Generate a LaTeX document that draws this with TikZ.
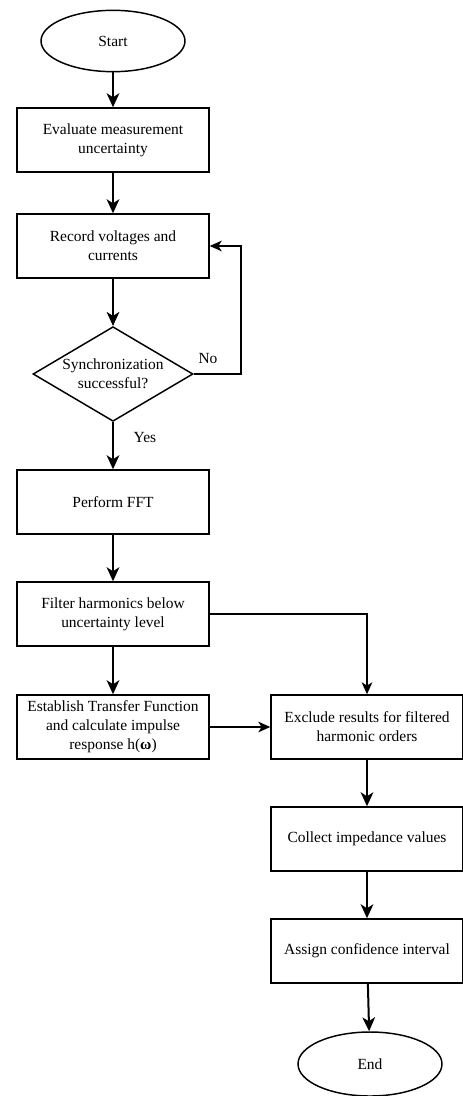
\documentclass[tikz,border=0pt]{standalone}
\usepackage{fontspec}
\setmainfont{Liberation Serif}
\usetikzlibrary{arrows.meta,shapes.geometric}

\begin{document}
\begin{tikzpicture}[x=0.75pt,y=-0.75pt,
    >={Stealth[length=10.5pt,width=9.5pt,inset=3pt]},
    font=\fontsize{11.6}{14.2}\selectfont,
    proc/.style={draw,line width=1.1pt,minimum width=144pt,minimum height=48pt,align=center,inner sep=2pt},
    term/.style={draw,line width=1.1pt,ellipse,minimum width=108pt,minimum height=46pt},
    dec/.style={draw,line width=1.1pt,diamond,minimum width=120pt,minimum height=71pt,inner sep=0pt,aspect=1.68,align=center},
    flow/.style={->,line width=1.5pt},
    thin flow/.style={-{Stealth[length=9pt,width=8pt,inset=2.5pt]},line width=1pt}]
  \useasboundingbox (0,0) rectangle (463,1096);
  % left column
  \node[term] (start) at (113,41) {Start};
  \node[proc] (eval) at (113,140) {Evaluate measurement\\uncertainty};
  \node[proc] (rec) at (113,246) {Record voltages and\\currents};
  \node[dec] (sync) at (113,374) {Synchronization\\successful?};
  \node[proc] (fft) at (113,502) {Perform FFT};
  \node[proc] (filt) at (113,614) {Filter harmonics below\\uncertainty level};
  \node[proc] (tf) at (113,727) {Establish Transfer Function\\and calculate impulse\\response h(\textbf{ω})};
  % right column
  \node[proc] (excl) at (367,727) {Exclude results for filtered\\harmonic orders};
  \node[proc] (coll) at (367,839) {Collect impedance values};
  \node[proc] (conf) at (367,951) {Assign confidence interval};
  \node[term,minimum height=48pt] (stop) at (370,1064) {End};
  \coordinate (loop) at (241,374);
  % labels
  \node (no) at (208,359) {No};
  \node (yes) at (145,438) {Yes};
  % connectors
  \draw[flow] (start) -- (eval);
  \draw[flow] (eval) -- (rec);
  \draw[flow] (rec) -- (sync);
  \draw[thin flow] (sync.east) -- (loop) |- (rec.east);
  \draw[flow] (sync) -- (fft);
  \draw[flow] (fft) -- (filt);
  \draw[flow] (filt) -- (tf);
  \draw[thin flow] (filt.east) -| (excl.north);
  \draw[thin flow] (tf) -- (excl);
  \draw[flow] (excl) -- (coll);
  \draw[flow] (coll) -- (conf);
  \draw[flow] (conf) -- (stop);
\end{tikzpicture}
\end{document}
